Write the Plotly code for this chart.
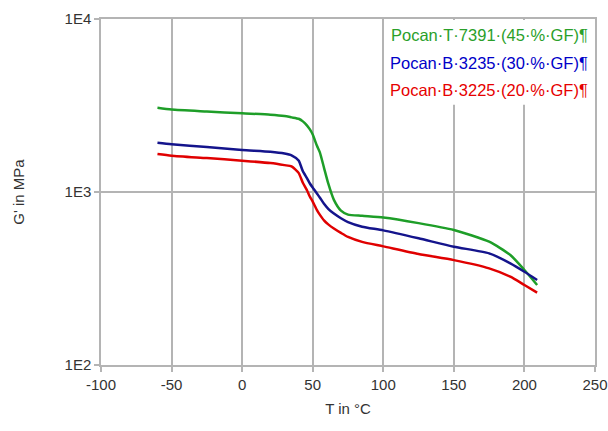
import plotly.graph_objects as go

temps = [-60, -50, -25, 0, 20, 30, 35, 40, 43, 46, 48, 50, 53, 55, 58, 61, 65, 70, 75, 85, 100, 125, 150, 175, 190, 200, 209]
g_t7391 = [3070, 3000, 2920, 2850, 2800, 2750, 2700, 2650, 2560, 2420, 2300, 2150, 1850, 1700, 1380, 1120, 900, 780, 740, 728, 712, 661, 603, 516, 432, 354, 290]
g_b3235 = [1927, 1888, 1820, 1750, 1710, 1670, 1630, 1520, 1320, 1200, 1120, 1060, 980, 930, 855, 800, 750, 705, 670, 630, 600, 540, 483, 442, 387, 346, 310]
g_b3225 = [1659, 1622, 1570, 1517, 1470, 1430, 1405, 1290, 1130, 1020, 940, 880, 785, 740, 685, 650, 615, 580, 550, 515, 485, 438, 404, 362, 324, 290, 262]

series_names = ["Pocan·T·7391·(45·%·GF)¶", "Pocan·B·3235·(30·%·GF)¶", "Pocan·B·3225·(20·%·GF)¶"]
line_colors = ["#1E9E28", "#14148C", "#E00000"]
text_colors = ["#2AA02A", "#0000C8", "#E60000"]

x_ticks = [-100, -50, 0, 50, 100, 150, 200, 250]
x_tick_labels = ["-100", "-50", "0", "50", "100", "150", "200", "250"]
y_ticks = [100, 1000, 10000]
y_tick_labels = ["1E2", "1E3", "1E4"]

FONT = "Liberation Sans, Arial, sans-serif"
GRID = "#B4B4B4"

fig = go.Figure()
for vals, name, col in zip([g_t7391, g_b3235, g_b3225], series_names, line_colors):
    fig.add_trace(go.Scatter(x=temps, y=vals, mode="lines", name=name,
                             line=dict(color=col, width=2.5, shape="spline", smoothing=0.6)))

# legend box (white) covering gridlines
fig.add_shape(type="rect", xref="x domain", yref="y domain", x0=0.578, x1=0.997, y0=0.752, y1=0.997,
              fillcolor="white", line=dict(width=0), layer="above")
for i, (name, col) in enumerate(zip(series_names, text_colors)):
    fig.add_annotation(xref="x domain", yref="y domain", x=0.99, y=0.954 - i * 0.08,
                       text=name, showarrow=False, xanchor="right", yanchor="middle",
                       font=dict(family=FONT, size=16.5, color=col))

fig.update_layout(
    width=608, height=431,
    margin=dict(l=101, r=13, t=19, b=66),
    paper_bgcolor="white", plot_bgcolor="white",
    showlegend=False,
    font=dict(family=FONT, size=15, color="#333333"),
)
fig.update_xaxes(range=[-100, 250], tickvals=x_ticks, ticktext=x_tick_labels, automargin=False,
                 showgrid=True, gridcolor=GRID, gridwidth=1.5,
                 showline=True, linecolor=GRID, linewidth=1.5, mirror=True, zeroline=False,
                 ticks="outside", ticklen=5, tickcolor=GRID, tickwidth=1.5,
                 title=dict(text="T in °C", font=dict(size=15), standoff=12),
                 tickfont=dict(size=15))
fig.update_yaxes(type="log", range=[2, 4], tickvals=y_ticks, ticktext=y_tick_labels, automargin=False,
                 showgrid=True, gridcolor=GRID, gridwidth=1.5,
                 showline=True, linecolor=GRID, linewidth=1.5, mirror=True, zeroline=False,
                 ticks="outside", ticklen=5, tickcolor=GRID, tickwidth=1.5,
                 title=dict(text="G' in MPa", font=dict(size=15), standoff=36),
                 tickfont=dict(size=15))

fig.write_html("out.html", config={"displayModeBar": False},
               post_script="document.body.style.margin='0';document.body.style.overflow='hidden';")
